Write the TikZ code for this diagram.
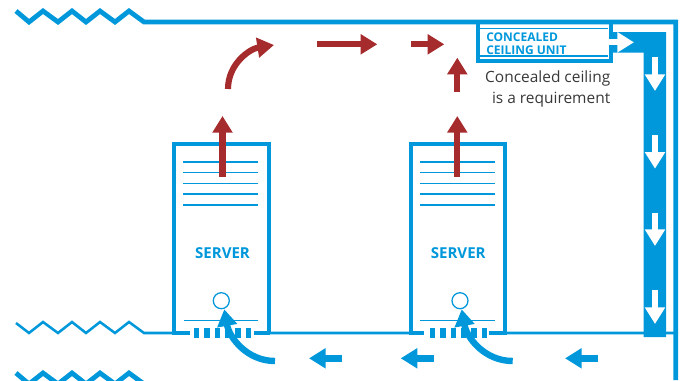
\documentclass[tikz,border=0pt]{standalone}
\usepackage{fontspec}
\setmainfont{Open Sans}
\usepackage{xcolor}
\usetikzlibrary{arrows.meta}
\definecolor{ductblue}{HTML}{0098DB}
\definecolor{airred}{HTML}{A62B2D}
\tikzset{
	wall/.style={ductblue, line width=3.6pt, miter limit=10},
	thinline/.style={ductblue, line width=0.95pt},
	grille/.style={ductblue, line width=7.5pt, dash pattern=on 4.1pt off 3.65pt},
	redarrow/.style={-{Triangle[length=12.5pt,width=14.5pt]}, airred, line width=4.6pt},
	bluearrow/.style={-{Triangle[length=12.5pt,width=14.5pt]}, ductblue, line width=4.8pt},
	whitearrow/.style={-{Triangle[length=12.5pt,width=14.5pt]}, white, line width=4.6pt},
	label/.style={ductblue, inner sep=0pt, font=\bfseries\fontsize{9}{9.2}\selectfont, align=left}
}

\begin{document}
\begin{tikzpicture}[x=0.75pt, y=-0.75pt]
			\path[use as bounding box, clip]	(0, 0) rectangle (686, 380);

			\draw[wall]	(16, 11) to (29, 22) to (43, 11) to (58, 22) to (72, 11) to (86, 22) to (100, 11) to (115, 22) to (129, 11) to (144, 22) to (675.8, 22) to (675.8, 380);
			\draw[wall]	(16, 373) to (29, 384) to (43, 373) to (58, 384) to (72, 373) to (86, 384) to (100, 373) to (115, 384) to (129, 373) to (144, 384);
			\draw[ductblue, line width=1.9pt]	(16, 323) to (29, 333) to (43, 322) to (58, 333) to (72, 322) to (86, 333) to (100, 322) to (115, 333) to (129, 322) to (144, 333) to (172, 333)
								(270, 333) to (409, 333)
								(507, 333) to (674, 333);

			\fill[ductblue]	(613, 32) -- (666, 32) -- (666, 337) -- (643.5, 337) -- (643.5, 52.7) -- (613, 52.7) -- cycle;
			\draw[ductblue, line width=2.8pt]	(478, 22) rectangle (610.7, 61);
			\draw[thinline]	(480, 28.5) to (608, 28.5)
								(480, 56) to (608, 56);
			\node[label, anchor=base west] (unitlabel) at (486, 54) {CONCEALED\\CEILING UNIT};
			\node[anchor=north east, align=right, text=black!78, inner sep=0pt, font=\fontsize{11.6}{16}\selectfont] (unitnote) at (610.5, 70.5) {Concealed ceiling\\is a requirement};

			\draw[whitearrow]	(606, 42.3) to (634, 42.3);
			\draw[whitearrow]	(655, 57) to (655, 91);
			\draw[whitearrow]	(655, 135) to (655, 168.7);
			\draw[whitearrow]	(655, 212.7) to (655, 246);
			\draw[whitearrow]	(655, 290) to (655, 324);

			\draw[ductblue, line width=3pt]	(174, 333) to (174, 144) to (268.5, 144) to (268.5, 333);
			\draw[ductblue, line width=2.6pt]	(172, 333) to (189.6, 333)
								(254, 333) to (270, 333);
			\draw[thinline]	(183, 162) to (258, 162)
								(183, 172.7) to (258, 172.7)
								(183, 183.3) to (258, 183.3)
								(183, 194) to (258, 194)
								(183, 205) to (258, 205)
								(184, 320.7) to (258, 320.7);
			\draw[grille]	(194, 333) to (252, 333);
			\draw[ductblue, line width=0.95pt, fill=white]	(221.3, 300.7) circle (8);
			\node[ductblue, font=\bfseries\fontsize{11.3}{13}\selectfont] (serverone) at (222.5, 253) {SERVER};

			\draw[ductblue, line width=3pt]	(411, 333) to (411, 144) to (505, 144) to (505, 333);
			\draw[ductblue, line width=2.6pt]	(409, 333) to (424.3, 333)
								(489.3, 333) to (507, 333);
			\draw[thinline]	(420, 162) to (495, 162)
								(420, 172.7) to (495, 172.7)
								(420, 183.3) to (495, 183.3)
								(420, 194) to (495, 194)
								(420, 205) to (495, 205)
								(420, 320.7) to (495, 320.7);
			\draw[grille]	(430, 333) to (487, 333);
			\draw[ductblue, line width=0.95pt, fill=white]	(460, 300.7) circle (8);
			\node[ductblue, font=\bfseries\fontsize{11.3}{13}\selectfont] (servertwo) at (458.2, 253) {SERVER};

			\draw[redarrow]	(222.5, 176.7) to (222.5, 116);
			\draw[redarrow]	(457.3, 176.7) to (457.3, 116);
			\draw[redarrow]	(228, 89) to[out=90, in=189] (274, 45);
			\draw[redarrow]	(316.7, 44.3) to (377.3, 44.3);
			\draw[redarrow]	(411, 44.3) to (444.3, 44.3);
			\draw[redarrow]	(457.3, 91.7) to (457.3, 57.7);

			\draw[bluearrow]	(275, 361) to[out=180, in=-80] (224.3, 309.3);
			\draw[bluearrow]	(512.7, 361) to[out=180, in=-80] (461.7, 309.3);
			\draw[bluearrow]	(342, 358.3) to (309, 358.3);
			\draw[bluearrow]	(434, 358.3) to (400.7, 358.3);
			\draw[bluearrow]	(598, 358.3) to (565, 358.3);
		\end{tikzpicture}
\end{document}
